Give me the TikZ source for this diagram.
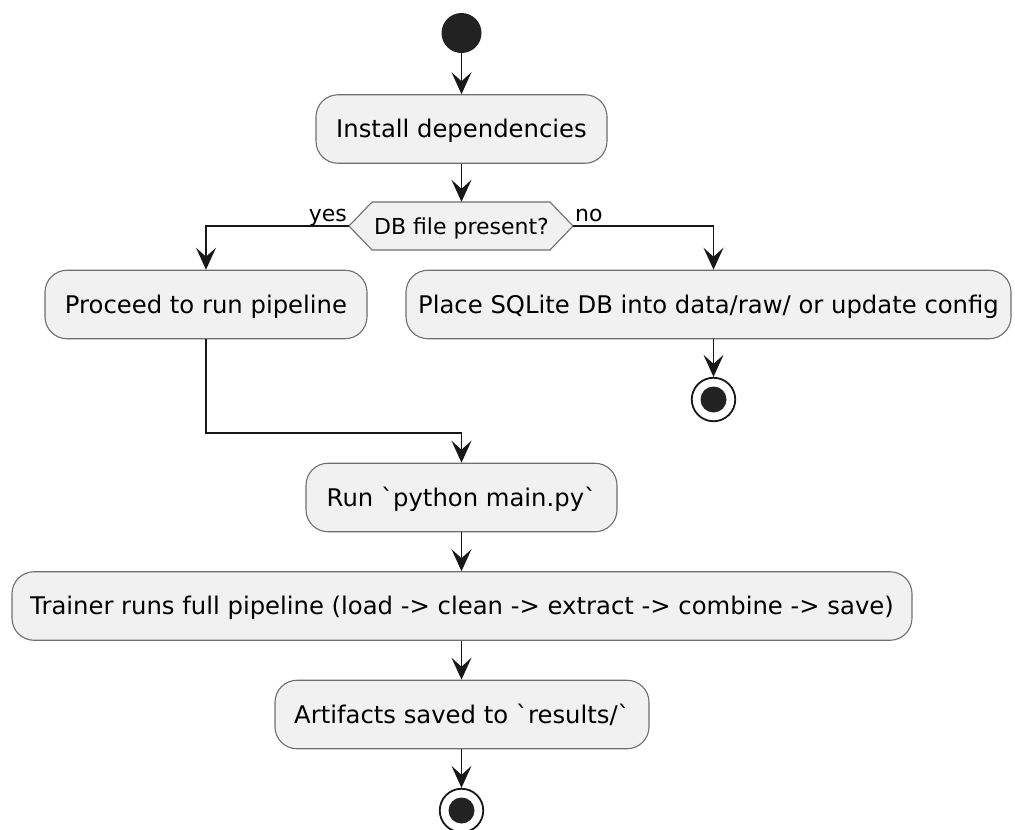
\documentclass[tikz,border=0pt]{standalone}
\usepackage{fontspec}
\setmainfont{DejaVu Sans}[Ligatures=TeXOff]
\usetikzlibrary{arrows.meta}
\definecolor{boxfill}{HTML}{F1F1F1}
\definecolor{boxline}{HTML}{6E6E6E}
\definecolor{ink}{HTML}{181818}
\definecolor{dotc}{HTML}{222222}
\newcommand{\bq}{{\char96}}
\begin{document}
\begin{tikzpicture}[x=1pt,y=-1pt,
  actbox/.style={draw=boxline, fill=boxfill, line width=1.1, rounded corners=22,
    inner sep=0, minimum height=68.5, text=black,
    font=\fontsize{24.3}{28}\selectfont, text height=17.5, text depth=0},
  decshape/.style={draw=boxline, fill=boxfill, line width=1.1, line join=miter},
  dectext/.style={inner sep=0, minimum height=48, minimum width=178,
    font=\fontsize{22}{26}\selectfont, text height=16, text depth=0},
  lbl/.style={inner sep=0, font=\fontsize{22}{26}\selectfont},
  flow/.style={draw=ink, line width=1.6, -{Stealth[length=22, width=20, inset=9]}},
  startdot/.style={circle, fill=dotc, minimum size=40, inner sep=0},
  stopring/.style={circle, draw=ink, line width=1.8, fill=white, minimum size=43.5, inner sep=0}
]
\useasboundingbox (0,0) rectangle (1015,830);

% nodes
\node[startdot] (start) at (461.5,33) {};
\node[actbox, minimum width=291] (install) at (461.5,129) {Install dependencies};

\draw[decshape] (349,226) -- (372,202) -- (550,202) -- (573,226) -- (550,250) -- (372,250) -- cycle;
\node[dectext] (dec) at (461.5,226) {DB file present?};
\coordinate (decL) at (349,226);
\coordinate (decR) at (573,226);

\node[actbox, minimum width=322] (proceed) at (206,304.5) {Proceed to run pipeline};
\node[actbox, minimum width=605] (place) at (708.5,304.5) {Place SQLite DB into data/raw/ or update config};
\node[stopring] (end1) at (713.5,399.5) {};
\fill[dotc] (end1.center) circle (13);

\node[actbox, minimum width=311] (run) at (461.5,497.5) {Run \bq python main.py\bq};
\node[actbox, minimum width=900] (trainer) at (462,606) {Trainer runs full pipeline (load -> clean -> extract -> combine -> save)};
\node[actbox, minimum width=374] (artifacts) at (462,714.5) {Artifacts saved to \bq results/\bq};
\node[stopring] (end2) at (461.5,810.5) {};
\fill[dotc] (end2.center) circle (13);

\coordinate (merge) at (206,433);

% connectors
\draw[flow] (start) -- (install);
\draw[flow] (install) -- (dec);
\draw[flow] (decL) -| (proceed.north);
\draw[flow] (decR) -| ([xshift=5]place.north);
\draw[flow] ([xshift=5]place.south) -- (end1);
\draw[flow] (proceed.south) |- (merge -| run.north) -- (run.north);
\draw[flow] (run.south) -- (run.south |- trainer.north);
\draw[flow] (trainer.south -| run.south) -- (run.south |- artifacts.north);
\draw[flow] (artifacts.south -| end2) -- (end2);

% branch labels
\node[lbl, anchor=base east] (yes) at (347,221) {yes};
\node[lbl, anchor=base west] (no) at (575,221) {no};
\end{tikzpicture}
\end{document}
